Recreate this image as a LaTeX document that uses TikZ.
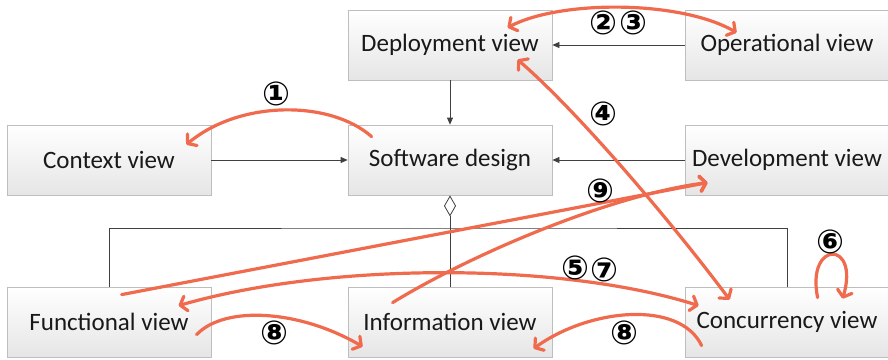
\documentclass[tikz,border=0pt]{standalone}
\usepackage{fontspec}
\setmainfont{Carlito}
\newfontfamily\circfont{DejaVu Sans}
\usetikzlibrary{arrows.meta,shadows}
\definecolor{hl}{RGB}{240,106,78}
\definecolor{dk}{RGB}{64,64,64}
\definecolor{bx}{RGB}{190,190,190}
\begin{document}
\begin{tikzpicture}[x=1pt,y=-1pt,
  viewbox/.style={draw=bx, line width=0.8pt, top color=white, bottom color=black!10,
    minimum width=204pt, minimum height=70pt, inner sep=0pt,
    font=\fontsize{25}{28}\selectfont, text=black!90,
    drop shadow={shadow xshift=1.2pt, shadow yshift=-1.2pt, opacity=0.25, fill=black!50}},
  plain/.style={draw=dk, line width=0.8pt, -{Triangle[length=7pt,width=6pt]}},
  redarr/.style={draw=hl, line width=3.2pt, line cap=round, -{Straight Barb[length=6pt,width=15pt,line cap=round,line join=round]}},
  redboth/.style={redarr, {Straight Barb[length=6pt,width=15pt,line cap=round,line join=round]}-{Straight Barb[length=6pt,width=15pt,line cap=round,line join=round]}},
  num/.style={font=\circfont\bfseries\fontsize{33}{33}\selectfont, inner sep=0pt}]
\useasboundingbox (0,0) rectangle (888,359);
\clip (0,0) rectangle (888,359);
\fill[white] (0,0) rectangle (888,359);

\node[viewbox] (dep)  at (450,45)  {Deployment view};
\node[viewbox] (op)   at (787,45)  {Operational view};
\node[viewbox] (ctx)  at (109,160) {Context view};
\node[viewbox] (sd)   at (450,160) {Software design};
\node[viewbox] (dev)  at (787,160) {Development view};
\node[viewbox] (func) at (109,322) {Functional view};
\node[viewbox] (info) at (450,322) {Information view};
\node[viewbox] (conc) at (787,322) {Concurrency view};

% structural connectors
\draw[plain] (dep) -- (sd);
\draw[plain] (op) -- (dep);
\draw[plain] (ctx) -- (sd);
\draw[plain] (dev) -- (sd);
\coordinate (bus) at (450,228);
\draw[draw=dk, line width=0.8pt, {Diamond[open,length=21pt,width=12pt]}-] (sd.south) -- (info.north);
\draw[draw=dk, line width=0.8pt] (func.north) |- (bus) -| (conc.north);

% red arrows
\draw[redarr] ([shift={(24,12)}]sd.north west) .. controls (330,100) and (240,100) .. ([shift={(-25,20)}]ctx.north east);
\draw[redboth] ([shift={(160,18)}]dep.north west) .. controls (560,0) and (680,0) .. ([shift={(52,23)}]op.north west);
\draw[redboth] ([shift={(170,50)}]dep.north west) .. controls (578,112) and (670,220) .. ([shift={(45,13)}]conc.north west);
\draw[redboth] ([shift={(172,19)}]func.north west) .. controls (330,262) and (560,262) .. ([shift={(14,19)}]conc.north west);
\draw[redarr] ([shift={(133,11)}]conc.north west) .. controls (806,240) and (860,240) .. ([shift={(158,12)}]conc.north west);
\draw[redarr] ([shift={(190,48)}]func.north west) .. controls (225,305) and (300,310) .. ([shift={(15,60)}]info.north west);
\draw[redarr] ([shift={(17,59)}]conc.north west) .. controls (680,300) and (590,308) .. ([shift={(186,62)}]info.north west);
\draw[redarr] ([shift={(115,8)}]func.north west) -- ([shift={(23,58)}]dev.north west);
\draw[redarr] ([shift={(45,16)}]info.north west) .. controls (470,255) and (610,195) .. ([shift={(23,58)}]dev.north west);

% labels
\node[num] (n1) at (276,94) {①};
\node[num] (n2) at (603,23) {②};
\node[num] (n3) at (633,23) {③};
\node[num] (n4) at (603,114) {④};
\node[num] (n5) at (575,268) {⑤};
\node[num] (n7) at (604,270) {⑦};
\node[num] (n6) at (830,242) {⑥};
\node[num] (n8a) at (274,333) {⑧};
\node[num] (n8b) at (624,333) {⑧};
\node[num] (n9) at (600,191) {⑨};
\end{tikzpicture}
\end{document}
